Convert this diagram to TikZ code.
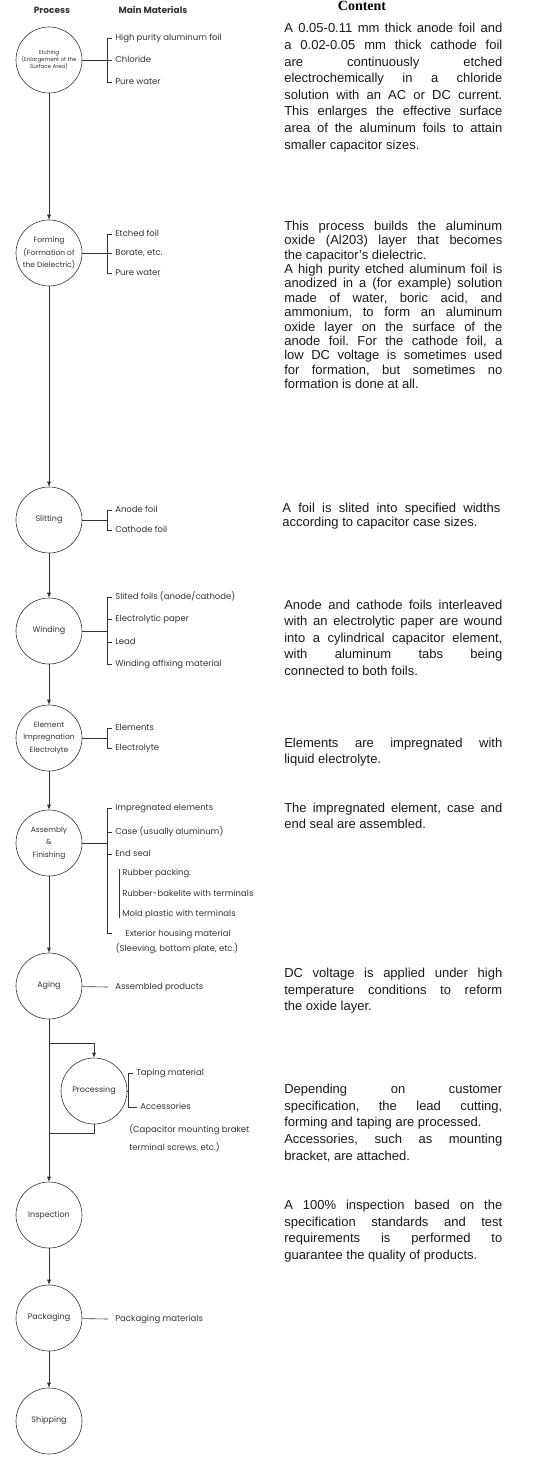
\documentclass[tikz,border=0pt]{standalone}
\usepackage{fontspec}
\setmainfont{Liberation Sans}
\newfontfamily\diagfont{Poppins}
\newfontfamily\headfont{Liberation Serif}
\usetikzlibrary{positioning, arrows.meta}
\tolerance=9999
\hbadness=10000
\hyphenpenalty=10000
\exhyphenpenalty=10000
\frenchspacing

\tikzset{
  proc/.style={circle, draw, minimum size=66pt, inner sep=0pt, align=center,
    font=\diagfont\fontsize{8}{10}\selectfont},
  multi/.style={font=\diagfont\fontsize{7.5}{12.5}\selectfont},
  mat/.style={anchor=west, inner sep=0pt, text height=6pt, text depth=1.5pt,
    font=\diagfont\fontsize{8.5}{10}\selectfont},
  head/.style={font=\diagfont\bfseries\fontsize{9}{11}\selectfont},
  note/.style={anchor=north west, inner sep=0pt, text width=218pt, align=justify,
    text=black!90},
}

\begin{document}
\begin{tikzpicture}[x=1pt, y=-1pt, on grid, color=black!80, line width=0.6pt,
    >={Latex[length=5pt,width=4pt]}]
   \useasboundingbox (0,0) rectangle (534,1463);

   % headers
   \node[head] (hproc) at (52,10) {Process};
   \node[head] (hmat) at (153,10) {Main Materials};
   \node[font=\headfont\bfseries\fontsize{14}{16}\selectfont, anchor=base, text=black]
      (hcont) at (362,11) {Content};

   % process chain
   \node[proc, font=\diagfont\fontsize{5.5}{7}\selectfont] (etch) at (49,60)
      {Etching\\(Enlargement of the\\Surface Area)};
   \node[proc, multi] (form) [below=193pt of etch] {Forming\\(Formation of\\the Dielectric)};
   \node[proc] (slit) [below=267pt of form] {Slitting};
   \node[proc] (wind) [below=111pt of slit] {Winding};
   \node[proc, multi] (elem) [below=107pt of wind] {Element\\Impregnation\\Electrolyte};
   \node[proc, multi] (asm) [below=105pt of elem] {Assembly\\\&\\Finishing};
   \node[proc] (age) [below=143pt of asm] {Aging};
   \node[proc] (insp) [below=229pt of age] {Inspection};
   \node[proc] (pack) [below=103pt of insp] {Packaging};
   \node[proc] (ship) [below=103pt of pack] {Shipping};
   \node[proc] (procs) at (94,1091) {Processing};

   \foreach \a/\b in {etch/form, form/slit, slit/wind, wind/elem, elem/asm,
                      asm/age, age/insp, insp/pack, pack/ship}
      \draw[->] (\a) -- (\b);

   % side loop through processing
   \coordinate (split) at (49,1043);
   \coordinate (join) at (49,1133);
   \draw[->] (split) -| (procs);
   \draw (procs) |- (join);

   % materials
   \node[mat] (etch1) at (115,38) {High purity aluminum foil};
   \node[mat] (etch2) at (115,60) {Chloride};
   \node[mat] (etch3) at (115,82) {Pure water};
   \draw ([xshift=-3pt]etch1.west) -- ++(-5,0) |- ([xshift=-3pt]etch3.west);
   \draw ([xshift=-3pt]etch2.west) -- (etch);

   \node[mat] (form1) at (115,234) {Etched foil};
   \node[mat] (form2) at (115,253) {Borate, etc.};
   \node[mat] (form3) at (115,273) {Pure water};
   \draw ([xshift=-3pt]form1.west) -- ++(-5,0) |- ([xshift=-3pt]form3.west);
   \draw ([xshift=-3pt]form2.west) -- (form);

   \node[mat] (slit1) at (115,510) {Anode foil};
   \node[mat] (slit2) at (115,530) {Cathode foil};
   \coordinate (slitb) at ([xshift=-8pt]slit1.west);
   \draw ([xshift=-3pt]slit1.west) -- (slitb) |- ([xshift=-3pt]slit2.west);
   \draw (slit) -- (slit -| slitb);

   \node[mat] (wind1) at (115,597) {Slited foils (anode/cathode)};
   \node[mat] (wind2) at (115,619) {Electrolytic paper};
   \node[mat] (wind3) at (115,642) {Lead};
   \node[mat] (wind4) at (115,664) {Winding affixing material};
   \coordinate (windb) at ([xshift=-8pt]wind1.west);
   \draw ([xshift=-3pt]wind1.west) -- (windb) |- ([xshift=-3pt]wind4.west);
   \foreach \i in {2,3}
      \draw ([xshift=-3pt]wind\i.west) -- ++(-5,0);
   \draw (wind) -- (wind -| windb);

   \node[mat] (elem1) at (115,728) {Elements};
   \node[mat] (elem2) at (115,748) {Electrolyte};
   \coordinate (elemb) at ([xshift=-8pt]elem1.west);
   \draw ([xshift=-3pt]elem1.west) -- (elemb) |- ([xshift=-3pt]elem2.west);
   \draw (elem) -- (elem -| elemb);

   \node[mat] (asm1) at (115,808) {Impregnated elements};
   \node[mat] (asm2) at (115,832) {Case (usually aluminum)};
   \node[mat] (asm3) at (115,854) {End seal};
   \node[mat] (asm4) at (122,873) {Rubber packing.};
   \node[mat] (asm5) at (122,894) {Rubber-bakelite with terminals};
   \node[mat] (asm6) at (122,914) {Mold plastic with terminals};
   \node[mat, anchor=center] (asm7) at (178,934) {Exterior housing material};
   \node[mat, anchor=center] (asm8) at (177,949) {(Sleeving, bottom plate, etc.)};
   \coordinate (asmb) at (107,933);
   \draw ([xshift=-3pt]asm1.west) -- ++(-5,0) -- (asmb) -- ++(5,0);
   \foreach \i in {2,3}
      \draw ([xshift=-3pt]asm\i.west) -- ++(-5,0);
   \draw ([xshift=-3pt]asm4.north west) -- ([xshift=-3pt]asm6.south west);
   \draw (asm) -- (asm -| asmb);

   \node[mat] (age1) at (115,987) {Assembled products};
   \draw (age) -- ([xshift=-7pt]age1.west);

   \node[mat] (procs1) at (136,1073) {Taping material};
   \node[mat] (procs2) at (140,1107) {Accessories};
   \node[mat] (procs3) at (129,1130) {(Capacitor mounting braket};
   \node[mat] (procs4) at (129,1148) {terminal screws, etc.)};
   \coordinate (procsb) at (128,1073);
   \draw ([xshift=-3pt]procs1.west) -- (procsb) |- ([xshift=-3pt]procs2.west);
   \draw (procs) -- (procs -| procsb);

   \node[mat] (pack1) at (115,1319) {Packaging materials};
   \draw (pack) -- ([xshift=-7pt]pack1.west);

   % content column
   \node[note, font=\fontsize{13}{16.6}\selectfont] (etchtxt) at (284,20.9)
      {\strut A 0.05-0.11 mm thick anode foil and\linebreak
       a 0.02-0.05 mm thick cathode foil\linebreak
       are continuously etched\linebreak
       electrochemically in a chloride\linebreak
       solution with an AC or DC current.\linebreak
       This enlarges the effective surface\linebreak
       area of the aluminum foils to attain\linebreak
       smaller capacitor sizes.};
   \node[note, font=\fontsize{13}{14.4}\selectfont] (formtxt) at (284,219.9)
      {\strut This process builds the aluminum\linebreak
       oxide (Al203) layer that becomes\linebreak
       the capacitor's dielectric.\newline
       A high purity etched aluminum foil is\linebreak
       anodized in a (for example) solution\linebreak
       made of water, boric acid, and\linebreak
       ammonium, to form an aluminum\linebreak
       oxide layer on the surface of the\linebreak
       anode foil. For the cathode foil, a\linebreak
       low DC voltage is sometimes used\linebreak
       for formation, but sometimes no\linebreak
       formation is done at all.};
   \node[note, font=\fontsize{13}{14.6}\selectfont] (slittxt) at (282,501.8)
      {\strut A foil is slited into specified widths\linebreak
       according to capacitor case sizes.};
   \node[note, font=\fontsize{13}{16.5}\selectfont] (windtxt) at (284,597.5)
      {\strut Anode and cathode foils interleaved\linebreak
       with an electrolytic paper are wound\linebreak
       into a cylindrical capacitor element,\linebreak
       with aluminum tabs being\linebreak
       connected to both foils.};
   \node[note, font=\fontsize{13}{16.7}\selectfont] (elemtxt) at (284,735.3)
      {\strut Elements are impregnated with\linebreak
       liquid electrolyte.};
   \node[note, font=\fontsize{13}{16.7}\selectfont] (asmtxt) at (284,800.3)
      {\strut The impregnated element, case and\linebreak
       end seal are assembled.};
   \node[note, font=\fontsize{13}{16.7}\selectfont] (agetxt) at (284,965.3)
      {\strut DC voltage is applied under high\linebreak
       temperature conditions to reform\linebreak
       the oxide layer.};
   \node[note, font=\fontsize{13}{16.7}\selectfont] (procstxt) at (284,1081.3)
      {\strut Depending on customer\linebreak
       specification, the lead cutting,\linebreak
       forming and taping are processed.\newline
       Accessories, such as mounting\linebreak
       bracket, are attached.};
   \node[note, font=\fontsize{13}{16.7}\selectfont] (insptxt) at (284,1197.3)
      {\strut A 100\% inspection based on the\linebreak
       specification standards and test\linebreak
       requirements is performed to\linebreak
       guarantee the quality of products.};
\end{tikzpicture}
\end{document}
